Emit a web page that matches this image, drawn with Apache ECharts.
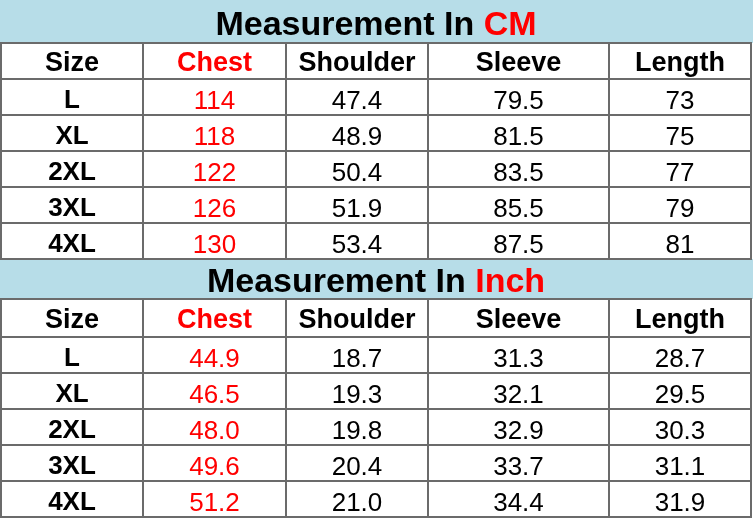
<!DOCTYPE html>
<html>
<head>
<meta charset="utf-8">
<script src="https://cdn.jsdelivr.net/npm/echarts@6/dist/echarts.min.js"></script>
<style>html,body{margin:0;padding:0;background:#fff}#c{width:753px;height:518px}</style>
</head>
<body>
<div id="c"></div>
<script>
// ---- data ----
const headers = ['Size', 'Chest', 'Shoulder', 'Sleeve', 'Length'];
const sizes = ['L', 'XL', '2XL', '3XL', '4XL'];
const cmChest = [114, 118, 122, 126, 130];
const cmShoulder = [47.4, 48.9, 50.4, 51.9, 53.4];
const cmSleeve = [79.5, 81.5, 83.5, 85.5, 87.5];
const cmLength = [73, 75, 77, 79, 81];
const inchChest = [44.9, 46.5, 48.0, 49.6, 51.2];
const inchShoulder = [18.7, 19.3, 19.8, 20.4, 21.0];
const inchSleeve = [31.3, 32.1, 32.9, 33.7, 34.4];
const inchLength = [28.7, 29.5, 30.3, 31.1, 31.9];
const titleCM = ['Measurement In ', 'CM'];
const titleInch = ['Measurement In ', 'Inch'];
const cmDecimals = [0, 1, 1, 0];
const inchDecimals = [1, 1, 1, 1];

// ---- layout (not data) ----
const colWidths = [142, 143, 142, 181, 142];
const rowHeights = [43, 36, 36, 36, 36, 36, 36, 40, 38, 36, 36, 36, 36, 36];
const colEdges = [0]; colWidths.forEach(w => colEdges.push(colEdges[colEdges.length - 1] + w));
const rowEdges = [0]; rowHeights.forEach(h => rowEdges.push(rowEdges[rowEdges.length - 1] + h));

const FONT = '"Liberation Sans", Arial, sans-serif';
const RED = '#ff0000';
const BLUE = '#b7dde8';
const LINE = '#6b6b6b';

// build cells
const cells = [];
function addBlock(startRow, title, cols, decimals) {
  cells.push({ c: 0, r: startRow, span: 5, kind: 'title', title: title });
  headers.forEach((h, i) => cells.push({ c: i, r: startRow + 1, span: 1, kind: 'header', text: h, red: i === 1 }));
  sizes.forEach((s, j) => {
    cells.push({ c: 0, r: startRow + 2 + j, span: 1, kind: 'size', text: s });
    cols.forEach((arr, k) => {
      cells.push({ c: k + 1, r: startRow + 2 + j, span: 1, kind: 'data', text: arr[j].toFixed(decimals[k]), red: k === 0 });
    });
  });
}
addBlock(0, titleCM, [cmChest, cmShoulder, cmSleeve, cmLength], cmDecimals);
addBlock(7, titleInch, [inchChest, inchShoulder, inchSleeve, inchLength], inchDecimals);

const chart = echarts.init(document.getElementById('c'), null, { renderer: 'canvas' });
chart.setOption({
  animation: false,
  grid: { left: 1, right: 2, top: 0, bottom: 1 },
  xAxis: { type: 'value', min: 0, max: colEdges[colEdges.length - 1], show: false },
  yAxis: { type: 'value', min: 0, max: rowEdges[rowEdges.length - 1], inverse: true, show: false },
  series: [{
    type: 'custom',
    coordinateSystem: 'cartesian2d',
    data: cells.map(c => [c.c, c.r]),
    renderItem: function (params, api) {
      const cell = cells[params.dataIndex];
      const p0 = api.coord([colEdges[cell.c], rowEdges[cell.r]]);
      const p1 = api.coord([colEdges[cell.c + cell.span], rowEdges[cell.r + 1]]);
      const x = p0[0], y = p0[1], w = p1[0] - p0[0], h = p1[1] - p0[1];
      const cx = x + w / 2, cy = y + h / 2;
      if (cell.kind === 'title') {
        return {
          type: 'group',
          children: [
            { type: 'rect', shape: { x: x - 1, y: y, width: w + 3, height: h }, style: { fill: BLUE }, z2: 0 },
            {
              type: 'text', z2: 5,
              style: {
                x: cx, y: cy + 4, align: 'center', verticalAlign: 'middle',
                text: '{a|' + cell.title[0] + '}{b|' + cell.title[1] + '}',
                rich: {
                  a: { fontFamily: FONT, fontWeight: 'bold', fontSize: 34, fill: '#000' },
                  b: { fontFamily: FONT, fontWeight: 'bold', fontSize: 34, fill: RED }
                }
              }
            }
          ]
        };
      }
      let fontSize = 26, weight = 'normal', dy = 5;
      if (cell.kind === 'header') { fontSize = 27; weight = 'bold'; dy = 3; }
      if (cell.kind === 'size') { fontSize = 26; weight = 'bold'; dy = 4; }
      return {
        type: 'group',
        children: [
          { type: 'rect', shape: { x: x, y: y, width: w, height: h }, style: { fill: '#fff', stroke: LINE, lineWidth: 2 }, z2: 1 },
          {
            type: 'text', z2: 5,
            style: {
              x: cx, y: cy + dy, align: 'center', verticalAlign: 'middle',
              text: cell.text, fontFamily: FONT, fontSize: fontSize, fontWeight: weight,
              fill: cell.red ? RED : '#000'
            }
          }
        ]
      };
    }
  }]
});
</script>
</body>
</html>
